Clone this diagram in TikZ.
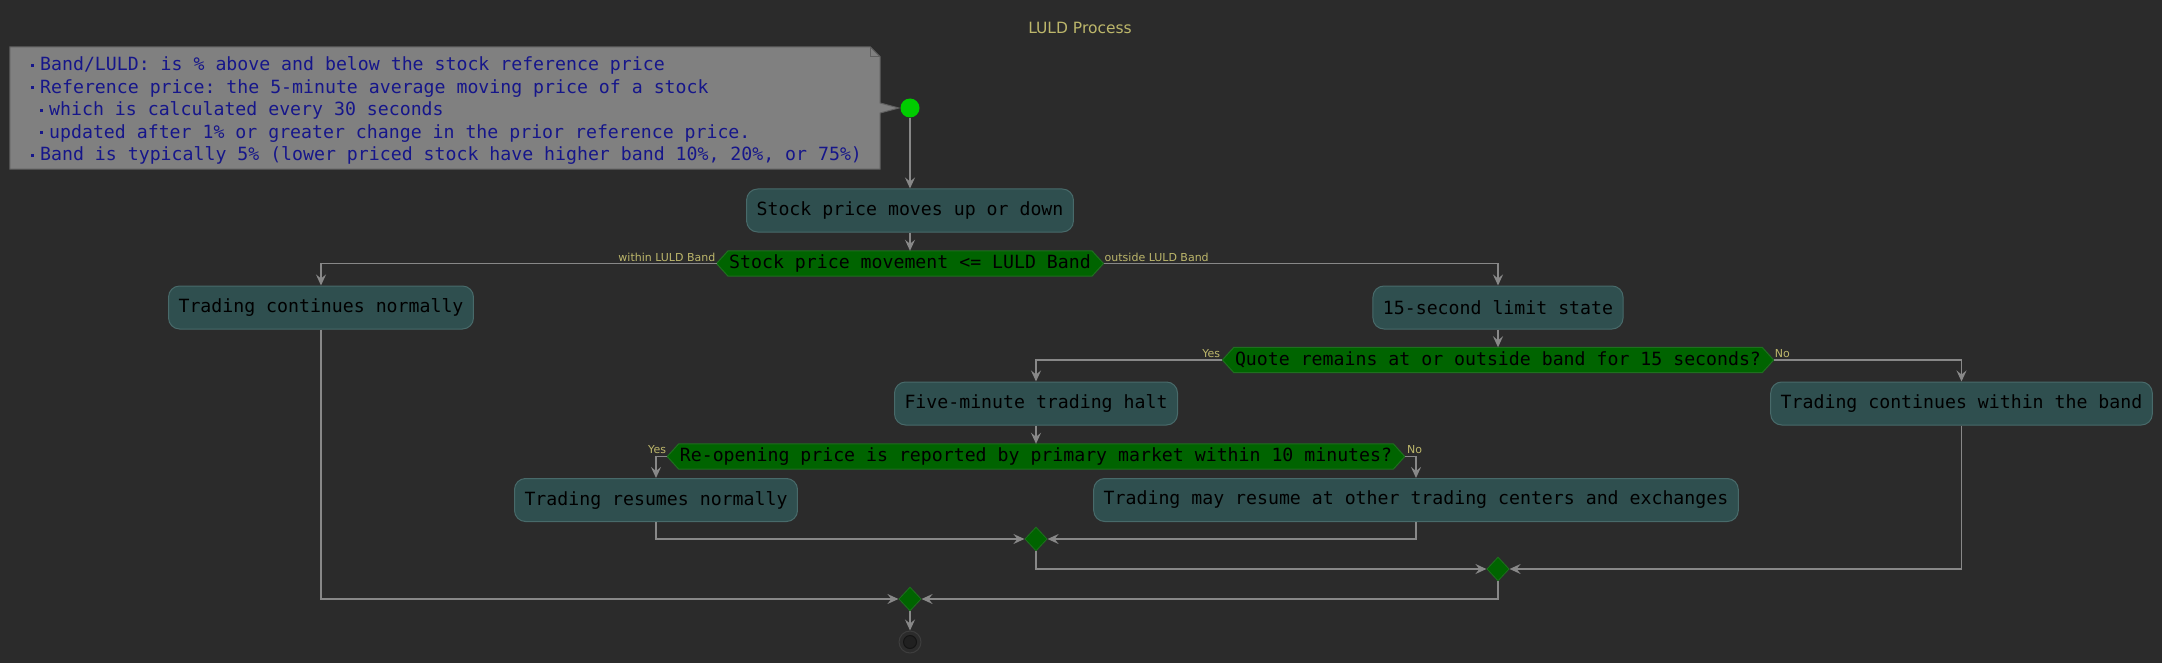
\documentclass[tikz,border=0pt]{standalone}
\usepackage{fontspec}
\setmonofont{DejaVu Sans Mono}
\newfontfamily\labfont{DejaVu Sans}
\usetikzlibrary{arrows.meta,shapes.geometric}
\definecolor{bgc}{HTML}{2B2B2B}
\definecolor{actfill}{HTML}{2F4F4F}
\definecolor{actdraw}{HTML}{486A6A}
\definecolor{decfill}{HTML}{006400}
\definecolor{decdraw}{HTML}{1F6F1F}
\definecolor{flowc}{HTML}{888888}
\definecolor{labc}{HTML}{BDB76B}
\definecolor{notefill}{HTML}{808080}
\definecolor{notedraw}{HTML}{606060}
\definecolor{notetext}{HTML}{16168A}
\definecolor{startc}{HTML}{00CC00}
\definecolor{endring}{HTML}{3D3D3D}
\definecolor{endfill}{HTML}{202020}
\definecolor{endline}{HTML}{141414}
\pgfdeclarelayer{back}
\pgfdeclarelayer{shapes}
\pgfsetlayers{back,shapes,main}
\newcommand\nbul{{\rule[4pt]{3pt}{3pt}}\hspace{6pt}}
\newcommand\hexof[1]{%
  \begin{pgfonlayer}{shapes}
    \path[hexshape] ([xshift=-11.5pt]#1.west) -- (#1.north west) -- (#1.north east)
      -- ([xshift=11.5pt]#1.east) -- (#1.south east) -- (#1.south west) -- cycle;
  \end{pgfonlayer}
  \coordinate (#1-l) at ([xshift=-11.5pt]#1.west);
  \coordinate (#1-r) at ([xshift=11.5pt]#1.east);}
\begin{document}
\begin{tikzpicture}[x=1pt,y=-1pt,
  mono/.style={font=\ttfamily\fontsize{18.2pt}{22.5pt}\selectfont},
  actbox/.style={mono, rectangle, rounded corners=11pt, fill=actfill, draw=actdraw,
    line width=1pt, text=black, minimum height=43pt, inner xsep=10pt, inner ysep=0pt},
  dectext/.style={mono, rectangle, text=black, minimum height=25pt, inner xsep=1pt, inner ysep=0pt},
  hexshape/.style={fill=decfill, draw=decdraw, line width=1pt},
  merge/.style={diamond, fill=decfill, draw=decdraw, line width=0.8pt,
    minimum width=22.4pt, minimum height=24pt, inner sep=0pt},
  flow/.style={draw=flowc, line width=1.5pt, -{Stealth[length=11pt,width=10pt,inset=4pt]}},
  lab/.style={font=\labfont\fontsize{11pt}{13pt}\selectfont, text=labc, inner sep=0pt},
  notetxt/.style={mono, text=notetext, inner sep=0pt, anchor=base west},
]
\useasboundingbox (0,0) rectangle (2162,663);
\begin{pgfonlayer}{back}
  \fill[bgc] (0,0) rectangle (2162,663);
\end{pgfonlayer}

% title
\node[font=\labfont\fontsize{15.5pt}{18pt}\selectfont, text=labc] (title) at (1080,28) {LULD Process};

% start
\node[circle, fill=startc, minimum size=19pt, inner sep=0pt] (start) at (910,108) {};

% note
\node[rectangle, minimum width=870pt, minimum height=122pt, inner sep=0pt] (note) at (445,108) {};
\begin{pgfonlayer}{shapes}
  \path[fill=notefill, draw=notedraw, line width=1pt]
    (note.north west) -- ([xshift=-10pt]note.north east) -- ([yshift=-10pt]note.north east)
    -- ([yshift=5pt]note.east) -- ([xshift=-1.5pt]start.west) -- ([yshift=-5pt]note.east)
    -- (note.south east) -- (note.south west) -- cycle;
  \draw[notedraw, line width=1pt] ([xshift=-10pt]note.north east) -- ([xshift=-10pt,yshift=-10pt]note.north east)
    -- ([yshift=-10pt]note.north east);
\end{pgfonlayer}
\node[notetxt] (n1) at (31,70.7) {\nbul Band/LULD: is \% above and below the stock reference price};
\node[notetxt] (n2) at (31,93.2) {\nbul Reference price: the 5-minute average moving price of a stock};
\node[notetxt] (n3) at (40,115.7) {\nbul which is calculated every 30 seconds};
\node[notetxt] (n4) at (40,138.2) {\nbul updated after 1\% or greater change in the prior reference price.};
\node[notetxt] (n5) at (31,160.7) {\nbul Band is typically 5\% (lower priced stock have higher band 10\%, 20\%, or 75\%)};

% actions
\node[actbox] (a1) at (910,210.5) {Stock price moves up or down};
\node[actbox] (a2) at (321,307.5) {Trading continues normally};
\node[actbox] (a3) at (1498,307.5) {15-second limit state};
\node[actbox] (a4) at (1036,403.5) {Five-minute trading halt};
\node[actbox] (a5) at (1961.5,403.5) {Trading continues within the band};
\node[actbox] (a6) at (656,500) {Trading resumes normally};
\node[actbox] (a7) at (1416,500) {Trading may resume at other trading centers and exchanges};

% decisions
\node[dectext] (d1) at (910,263.5) {Stock price movement <= LULD Band};
\hexof{d1}
\node[dectext] (d2) at (1498,360) {Quote remains at or outside band for 15 seconds?};
\hexof{d2}
\node[dectext] (d3) at (1036,456.5) {Re-opening price is reported by primary market within 10 minutes?};
\hexof{d3}

% merges
\node[merge] (m1) at (1036,539) {};
\node[merge] (m2) at (1498,569) {};
\node[merge] (m3) at (910,599) {};

% end
\node[circle, minimum size=22pt, inner sep=0pt, fill=bgc, draw=endring, line width=1pt] (end) at (910,642) {};
\node[circle, minimum size=13pt, inner sep=0pt, fill=endfill, draw=endline, line width=1pt] (endin) at (end) {};

% connectors
\draw[flow] (start.south) -- (a1.north);
\draw[flow] (a1.south) -- (d1.north);
\draw[flow] (d1-l) -| (a2.north);
\draw[flow] (d1-r) -| (a3.north);
\draw[flow] (a3.south) -- (d2.north);
\draw[flow] (d2-l) -| (a4.north);
\draw[flow] (d2-r) -| (a5.north);
\draw[flow] (a4.south) -- (d3.north);
\draw[flow] (d3-l) -| (a6.north);
\draw[flow] (d3-r) -| (a7.north);
\draw[flow] (a6.south) |- (m1.west);
\draw[flow] (a7.south) |- (m1.east);
\draw[flow] (m1.south) |- (m2.west);
\draw[flow] (a5.south) |- (m2.east);
\draw[flow] (m2.south) |- (m3.east);
\draw[flow] (a2.south) |- (m3.west);
\draw[flow] (m3.south) -- (end.north);

% labels
\node[lab, anchor=base east] (l1) at ([xshift=-1pt,yshift=2.5pt]d1-l) {within LULD Band};
\node[lab, anchor=base west] (l2) at ([xshift=1pt,yshift=2.5pt]d1-r) {outside LULD Band};
\node[lab, anchor=base east] (l3) at ([xshift=-2pt,yshift=2.5pt]d2-l) {Yes};
\node[lab, anchor=base west] (l4) at ([xshift=1pt,yshift=2.5pt]d2-r) {No};
\node[lab, anchor=base east] (l5) at ([xshift=-1pt,yshift=3pt]d3-l) {Yes};
\node[lab, anchor=base west] (l6) at ([xshift=2pt,yshift=3pt]d3-r) {No};
\end{tikzpicture}
\end{document}
